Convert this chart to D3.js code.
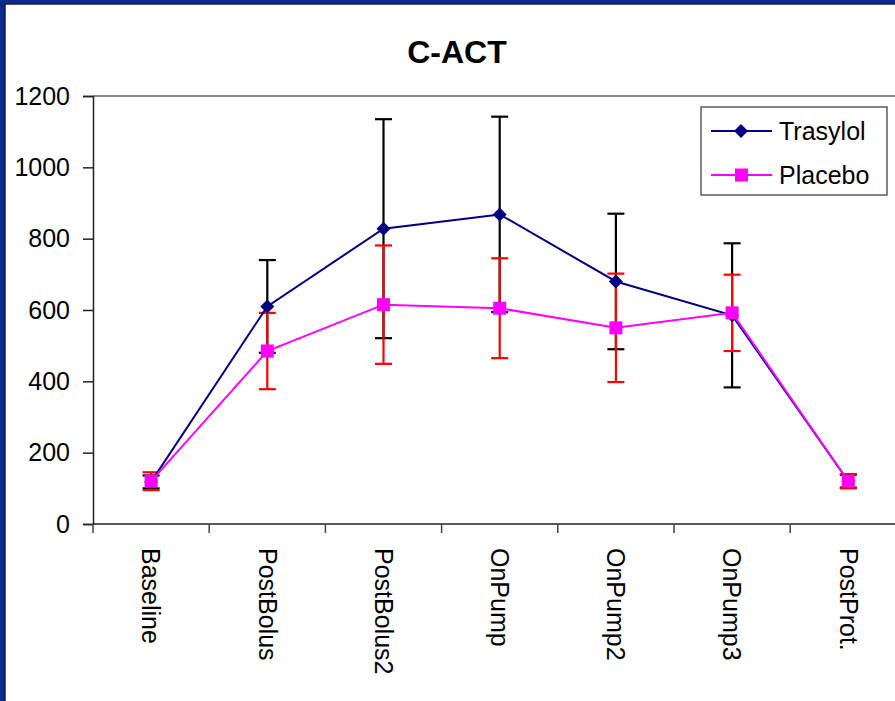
<!DOCTYPE html>
<html>
<head>
<meta charset="utf-8">
<script src="https://cdn.jsdelivr.net/npm/d3@7"></script>
<style>
  html, body { margin: 0; padding: 0; background: #fff; }
  svg { display: block; font-family: "Liberation Sans", Arial, sans-serif; }
</style>
</head>
<body>
<svg id="chart" width="895" height="701"></svg>
<script>
// Categories along the x axis
var categories = ["Baseline", "PostBolus", "PostBolus2", "OnPump", "OnPump2", "OnPump3", "PostProt."];

// Trasylol: means and error (+/-)
var trasylol = [118, 610, 828, 868, 680, 585, 120];
var trasylolErr = [18, 130, 307, 274, 190, 202, 18];

// Placebo: means and error (+/-)
var placebo = [120, 485, 615, 605, 550, 592, 120];
var placeboErr = [25, 107, 166, 140, 152, 107, 20];

var yTicks = [0, 200, 400, 600, 800, 1000, 1200];

var svg = d3.select("#chart");
var W = 895, H = 701;

// Plot area (extends past the right edge, like the original slide crop)
var plotLeft = 93, plotTop = 96, plotBottom = 524, step = 116.2;

var x = d3.scaleBand()
    .domain(categories)
    .range([plotLeft, plotLeft + step * categories.length]);

var y = d3.scaleLinear()
    .domain([0, 1200])
    .range([plotBottom, plotTop]);

// Slide frame
svg.append("rect").attr("x", 0).attr("y", 0).attr("width", W).attr("height", H).attr("fill", "#0a2a90");
svg.append("rect").attr("x", 5).attr("y", 4).attr("width", W).attr("height", H).attr("fill", "#fff")
    .attr("stroke", "#1a1a3a").attr("stroke-width", 1.5);

// Title
svg.append("text")
    .attr("x", 457).attr("y", 63)
    .attr("text-anchor", "middle")
    .attr("font-size", 32).attr("font-weight", "bold")
    .text("C-ACT");

// Top border of plot area
svg.append("line")
    .attr("x1", plotLeft).attr("x2", W).attr("y1", plotTop).attr("y2", plotTop)
    .attr("stroke", "#8a8a8a").attr("stroke-width", 2);

// Y axis
var yAxis = svg.append("g")
    .attr("transform", `translate(${plotLeft},0)`)
    .call(d3.axisLeft(y).tickValues(yTicks).tickSize(10).tickPadding(13).tickFormat(d3.format("d")));
yAxis.select(".domain").attr("stroke", "#222").attr("stroke-width", 1.5);
yAxis.selectAll(".tick line").attr("stroke", "#222").attr("stroke-width", 1.5);
yAxis.selectAll(".tick text").attr("font-size", 25).attr("fill", "#000")
    .attr("font-family", "Liberation Sans, Arial, sans-serif");

// X axis line and boundary ticks
svg.append("line")
    .attr("x1", plotLeft).attr("x2", W).attr("y1", plotBottom).attr("y2", plotBottom)
    .attr("stroke", "#222").attr("stroke-width", 1.5);

var bounds = categories.map((c) => x(c)).concat([x.range()[1]]);
svg.append("g").selectAll("line")
    .data(bounds)
    .join("line")
    .attr("x1", (d) => d).attr("x2", (d) => d)
    .attr("y1", plotBottom).attr("y2", plotBottom + 9)
    .attr("stroke", "#444").attr("stroke-width", 1.5);

// Rotated category labels
svg.append("g").selectAll("text")
    .data(categories)
    .join("text")
    .attr("transform", (d) => `translate(${x(d) + x.bandwidth() / 2},${plotBottom + 24}) rotate(90)`)
    .attr("dy", "0.35em")
    .attr("font-size", 25)
    .text((d) => d);

var cx = (i) => x(categories[i]) + x.bandwidth() / 2;

function errorBars(values, errs, color) {
    var g = svg.append("g").attr("stroke", color).attr("stroke-width", 2.2).attr("fill", "none");
    values.forEach((v, i) => {
        var hi = y(v + errs[i]), lo = y(v - errs[i]);
        g.append("line").attr("x1", cx(i)).attr("x2", cx(i)).attr("y1", hi).attr("y2", lo);
        g.append("line").attr("x1", cx(i) - 8.5).attr("x2", cx(i) + 8.5).attr("y1", hi).attr("y2", hi);
        g.append("line").attr("x1", cx(i) - 8.5).attr("x2", cx(i) + 8.5).attr("y1", lo).attr("y2", lo);
    });
}

errorBars(trasylol, trasylolErr, "#000");
errorBars(placebo, placeboErr, "#ff0000");

var line = d3.line().x((d, i) => cx(i)).y((d) => y(d));

// Trasylol series
svg.append("path").datum(trasylol)
    .attr("d", line).attr("fill", "none").attr("stroke", "#000080").attr("stroke-width", 2);
svg.append("g").selectAll("path")
    .data(trasylol)
    .join("path")
    .attr("transform", (d, i) => `translate(${cx(i)},${y(d)})`)
    .attr("d", "M0,-7L7,0L0,7L-7,0Z")
    .attr("fill", "#000080");

// Placebo series
svg.append("path").datum(placebo)
    .attr("d", line).attr("fill", "none").attr("stroke", "#ff00ff").attr("stroke-width", 2);
svg.append("g").selectAll("rect")
    .data(placebo)
    .join("rect")
    .attr("x", (d, i) => cx(i) - 6.5).attr("y", (d) => y(d) - 6.5)
    .attr("width", 13).attr("height", 13)
    .attr("fill", "#ff00ff");

// Legend
var lg = svg.append("g");
lg.append("rect").attr("x", 701).attr("y", 107).attr("width", 186).attr("height", 88)
    .attr("fill", "#fff").attr("stroke", "#333").attr("stroke-width", 1.2);
var legendItems = [
    { name: "Trasylol", color: "#000080", shape: "diamond", y: 131 },
    { name: "Placebo", color: "#ff00ff", shape: "square", y: 175 }
];
legendItems.forEach((it) => {
    lg.append("line").attr("x1", 711).attr("x2", 772).attr("y1", it.y).attr("y2", it.y)
        .attr("stroke", it.color).attr("stroke-width", 2);
    if (it.shape === "diamond") {
        lg.append("path").attr("transform", `translate(741,${it.y})`)
            .attr("d", "M0,-7L7,0L0,7L-7,0Z").attr("fill", it.color);
    } else {
        lg.append("rect").attr("x", 735).attr("y", it.y - 6.5).attr("width", 13).attr("height", 13)
            .attr("fill", it.color);
    }
    lg.append("text").attr("x", 779).attr("y", it.y + 9).attr("font-size", 25).text(it.name);
});
</script>
</body>
</html>
